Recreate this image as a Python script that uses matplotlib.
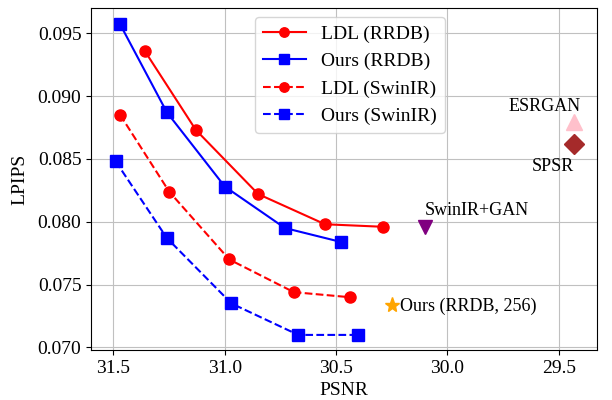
import matplotlib
matplotlib.use('Agg')
import matplotlib.pyplot as plt

plt.rcParams['font.family'] = ['Liberation Serif', 'DejaVu Serif']
plt.rcParams['font.size'] = 14

# LDL / Ours curves (PSNR, LPIPS)
ldl_rrdb_psnr = [31.36, 31.13, 30.85, 30.55, 30.29]
ldl_rrdb_lpips = [0.0936, 0.0873, 0.0822, 0.0798, 0.0796]
ours_rrdb_psnr = [31.47, 31.26, 31.00, 30.73, 30.48]
ours_rrdb_lpips = [0.0957, 0.0887, 0.0828, 0.0795, 0.0784]
ldl_swin_psnr = [31.47, 31.25, 30.98, 30.69, 30.44]
ldl_swin_lpips = [0.0885, 0.0824, 0.0770, 0.0744, 0.0740]
ours_swin_psnr = [31.49, 31.26, 30.97, 30.67, 30.40]
ours_swin_lpips = [0.0848, 0.0787, 0.0735, 0.0710, 0.0710]

# single points
esrgan = (29.43, 0.0879)
spsr = (29.43, 0.0862)
swinir_gan = (30.10, 0.0796)
ours_256 = (30.25, 0.0734)

fig, ax = plt.subplots(figsize=(6.12, 4), dpi=100)
fig.subplots_adjust(left=0.149, right=0.975, top=0.98, bottom=0.125)

ax.plot(ldl_rrdb_psnr, ldl_rrdb_lpips, '-o', color='red', ms=8, lw=1.5, label='LDL (RRDB)')
ax.plot(ours_rrdb_psnr, ours_rrdb_lpips, '-s', color='blue', ms=8, lw=1.5, label='Ours (RRDB)')
ax.plot(ldl_swin_psnr, ldl_swin_lpips, '--o', color='red', ms=8, lw=1.5, label='LDL (SwinIR)')
ax.plot(ours_swin_psnr, ours_swin_lpips, '--s', color='blue', ms=8, lw=1.5, label='Ours (SwinIR)')

ax.plot(*esrgan, '^', color='pink', ms=11)
ax.plot(*spsr, 'D', color='brown', ms=10.5)
ax.plot(*swinir_gan, 'v', color='purple', ms=10)
ax.plot(*ours_256, '*', color='orange', ms=11)

ax.text(29.563, 0.0892, 'ESRGAN', ha='center', va='center', fontsize=13)
ax.text(29.528, 0.0844, 'SPSR', ha='center', va='center', fontsize=13)
ax.text(30.10, 0.0809, 'SwinIR+GAN', ha='left', va='center', fontsize=13)
ax.text(30.213, 0.0733, 'Ours (RRDB, 256)', ha='left', va='center', fontsize=13)

ax.set_xlim(31.6, 29.33)
ax.set_ylim(0.0698, 0.097)
ax.set_xticks([31.5, 31.0, 30.5, 30.0, 29.5])
ax.set_yticks([0.070, 0.075, 0.080, 0.085, 0.090, 0.095])
ax.set_yticklabels(['0.070', '0.075', '0.080', '0.085', '0.090', '0.095'])
ax.set_xlabel('PSNR', labelpad=4)
ax.set_ylabel('LPIPS', labelpad=7)
ax.grid(True, color='#c0c0c0')
ax.legend(loc='upper center', bbox_to_anchor=(0.512, 0.995), handlelength=2.2,
          borderaxespad=0.4, markerscale=0.85)

fig.savefig('out.png')
